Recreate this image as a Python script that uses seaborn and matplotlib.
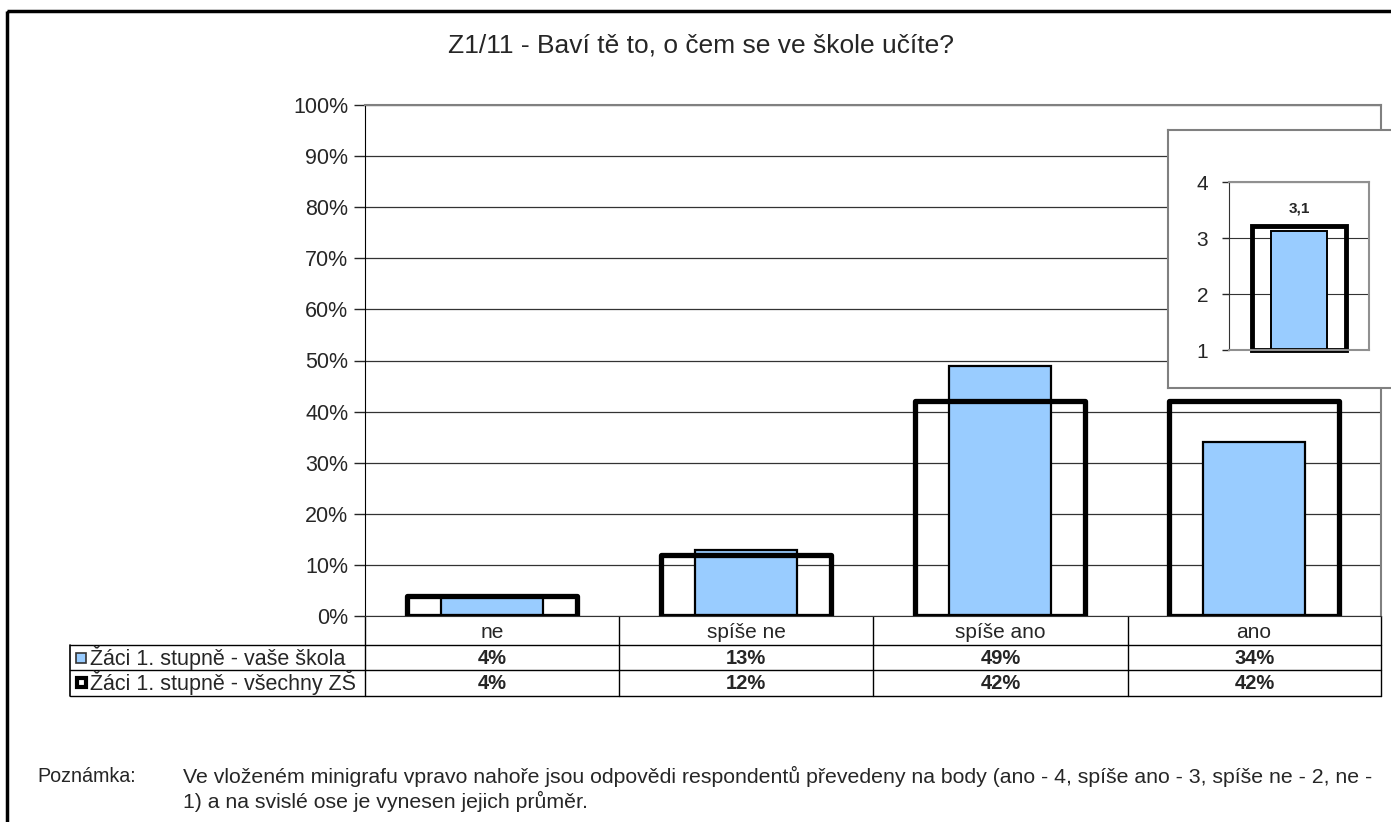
import numpy as np
import pandas as pd
import seaborn as sb
import matplotlib.pyplot as plt
from matplotlib.patches import Rectangle
from matplotlib.ticker import PercentFormatter

# data
categories = ['ne', 'spíše ne', 'spíše ano', 'ano']
skola = [4, 13, 49, 34]       # Žáci 1. stupně - vaše škola
vsechny = [4, 12, 42, 42]     # Žáci 1. stupně - všechny ZŠ
series_names = ['Žáci 1. stupně - vaše škola', 'Žáci 1. stupně - všechny ZŠ']
mini_skola = [3.13]
mini_vsechny = [3.22]
mini_label = '3,1'
mini_base = 1
title = 'Z1/11 - Baví tě to, o čem se ve škole učíte?'
note_head = 'Poznámka:'
note_lines = ['Ve vloženém minigrafu vpravo nahoře jsou odpovědi respondentů převedeny na body (ano - 4, spíše ano - 3, spíše ne - 2, ne -',
              '1) a na svislé ose je vynesen jejich průměr.']

sb.set_style('white')
plt.rcParams['font.family'] = ['Liberation Sans', 'DejaVu Sans']

W, H = 1391, 822
BLUE = '#99CCFF'
fig = plt.figure(figsize=(W / 100, H / 100), dpi=100)

def fx(px):
    return px / W

def fy(py):
    return 1 - py / H

# overlay axes in pixel coordinates for border, table and note
ov = fig.add_axes([0, 0, 1, 1], zorder=0)
ov.set_xlim(0, W)
ov.set_ylim(H, 0)
ov.axis('off')
ov.add_patch(Rectangle((7, 11), 1400, 830, fill=False, lw=2.5, ec='black'))

#****************** MAIN CHART #******************
df = pd.DataFrame({'cat': categories, 'skola': np.array(skola) / 100,
                   'vsechny': np.array(vsechny) / 100})
x0, x1, y0, y1 = 365, 1381, 616, 105
ax = fig.add_axes([fx(x0), fy(y0), fx(x1 - x0), (y0 - y1) / H], zorder=1)
sb.barplot(data=df, x='cat', y='skola', color=BLUE, width=0.4, ax=ax)
sb.barplot(data=df, x='cat', y='vsechny', color='white', width=0.67, ax=ax)
for p in ax.containers[0]:
    p.set_facecolor(BLUE)
    p.set_edgecolor('black')
    p.set_linewidth(1.6)
for p in ax.containers[1]:
    p.set_facecolor('none')
    p.set_edgecolor('black')
    p.set_linewidth(3.8)
    p.set_joinstyle('round')
ax.set_ylim(0, 1)
ax.set_xlim(-0.5, len(categories) - 0.5)
ax.set_yticks(np.arange(0, 1.01, 0.1))
ax.yaxis.set_major_formatter(PercentFormatter(1.0, decimals=0))
ax.yaxis.grid(True, color='#333333', lw=0.9)
ax.set_axisbelow(True)
ax.tick_params(axis='y', left=True, length=8, width=1, labelsize=15.5, pad=4)
ax.tick_params(axis='x', length=0, labelsize=15, pad=5)
ax.set_xlabel('')
ax.set_ylabel('')
for s in ['top', 'right']:
    ax.spines[s].set_color('#808080')
    ax.spines[s].set_linewidth(1.5)
ax.spines['left'].set_color('black')
ax.spines['bottom'].set_color('#333333')

fig.text(fx(701), fy(45), title, ha='center', va='center', fontsize=19)

#****************** DATA TABLE #******************
col_edges = [365, 619, 873, 1128, 1381]
for xe in col_edges:
    ov.plot([xe, xe], [616, 696], color='black', lw=1)
for yl in [645, 670, 696]:
    ov.plot([70, 1381], [yl, yl], color='black', lw=1)
ov.plot([70, 70], [645, 696], color='black', lw=1.2)
row_y = [658, 683]
for vals, ry in zip([skola, vsechny], row_y):
    for i, v in enumerate(vals):
        xc = (col_edges[i] + col_edges[i + 1]) / 2
        ov.text(xc, ry, f'{v}%', ha='center', va='center', fontsize=14.5, fontweight='bold')
ov.add_patch(Rectangle((76, 653), 10, 10, fc=BLUE, ec='#333333', lw=1.2))
ov.add_patch(Rectangle((77, 678), 9, 9, fc='white', ec='black', lw=3))
for name, ry in zip(series_names, row_y):
    ov.text(90, ry, name, ha='left', va='center', fontsize=15.5)

#****************** NOTE #******************
ov.text(37, 776, note_head, ha='left', va='center', fontsize=14.2)
for i, line in enumerate(note_lines):
    ov.text(183, 776 + 25 * i, line, ha='left', va='center', fontsize=15.3)

#****************** MINI CHART #******************
box = fig.add_axes([fx(1168), fy(388), fx(240), (388 - 130) / H], zorder=2)
box.set_xticks([])
box.set_yticks([])
box.set_facecolor('white')
for s in box.spines.values():
    s.set_color('#808080')
    s.set_linewidth(1.5)

# bars start at the axis base (1 point), so heights are measured from it
mdf = pd.DataFrame({'g': ['x'],
                    'skola': np.array(mini_skola) - mini_base,
                    'vsechny': np.array(mini_vsechny) - mini_base})
ix0, ix1, iy0, iy1 = 1229, 1369, 350, 182
ins = fig.add_axes([fx(ix0), fy(iy0), fx(ix1 - ix0), (iy0 - iy1) / H], zorder=3)
sb.barplot(data=mdf, x='g', y='skola', color=BLUE, width=0.4, bottom=mini_base, ax=ins)
sb.barplot(data=mdf, x='g', y='vsechny', color='white', width=0.67, bottom=mini_base, ax=ins)
for p in ins.containers[0]:
    p.set_facecolor(BLUE)
    p.set_edgecolor('black')
    p.set_linewidth(1.4)
for p in ins.containers[1]:
    p.set_facecolor('none')
    p.set_edgecolor('black')
    p.set_linewidth(3.5)
    p.set_clip_on(False)
ins.set_ylim(1, 4)
ins.set_xlim(-0.5, 0.5)
ins.set_yticks([1, 2, 3, 4])
ins.set_xticks([])
ins.yaxis.grid(True, color='#333333', lw=0.8)
ins.set_axisbelow(True)
ins.tick_params(axis='y', left=True, length=5, width=1, labelsize=15, pad=10)
ins.set_xlabel('')
ins.set_ylabel('')
for s in ['top', 'right', 'bottom']:
    ins.spines[s].set_color('#909090')
    ins.spines[s].set_linewidth(1.5)
ins.spines['left'].set_color('#333333')
ins.text(0, mini_vsechny[0] + 0.3, mini_label, ha='center', va='center',
         fontsize=11, fontweight='bold')

plt.savefig('out.png', dpi=100)
